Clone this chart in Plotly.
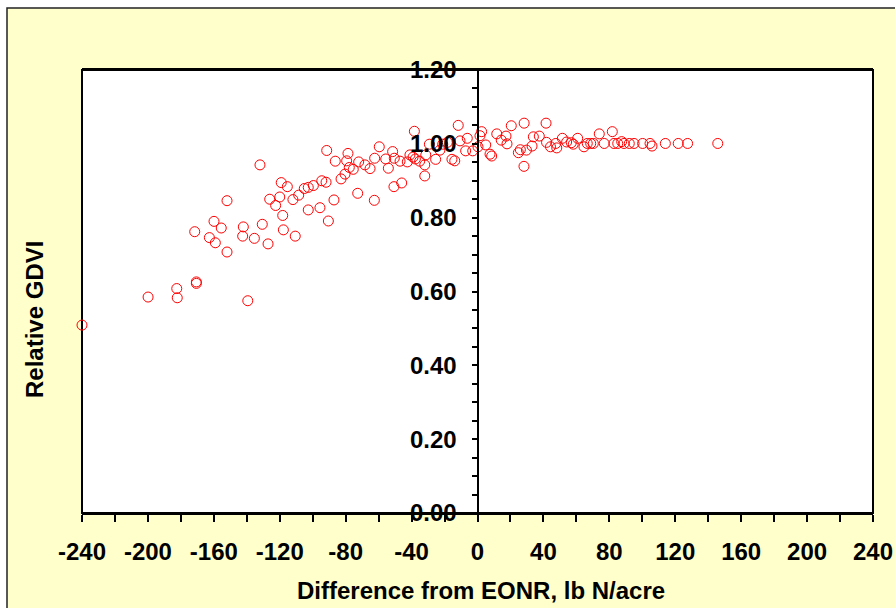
import plotly.graph_objects as go

# Difference from EONR (lb N/acre)
diff_eonr = [
    -132.0, -119.1, -115.4, -105.1, -102.7, -152.0, -126.1, -120.0, -122.5, -112.0,
    -108.5, -102.7, -118.2, -159.9, -155.5, -171.6, -142.1, -130.6, -142.5, -135.4,
    -162.7, -159.1, -127.1, -117.8, -110.6, -152.0, -170.6, -170.6, -182.5, -182.2,
    -199.9, -139.4, -240.0,
    -99.6, -94.5, -91.9, -91.5, -95.6, -90.5, -87.1, -86.3, -82.8, -80.4,
    -79.4, -78.6, -77.8, -75.4, -72.1, -72.7, -68.3, -65.2, -62.4, -62.6,
    -59.6, -55.7, -54.1, -51.5, -50.5, -50.7, -46.0, -47.0, -42.6, -41.0,
    -38.3, -37.7, -35.1, -32.0, -32.0, -31.4, -29.2, -25.4, -22.8, -21.1,
    -18.3, -15.5, -13.8, -11.7, -10.6, -7.2, -6.2, -2.9, 0.3, 1.5,
    2.5, 5.0, 7.6, 8.6, 11.7, 14.4, 17.3, 17.9, 20.5, 24.8,
    26.0, 28.2, 28.3, 29.7, 33.1, 33.9, 37.5, -39.1,
    41.6, 41.9, 44.3, 47.5, 48.1, 51.5, 54.1, 56.9, 58.1, 60.8,
    64.6, 66.6, 68.7, 70.3, 73.9, 76.9, 81.8, 82.8, 85.1, 87.5,
    88.9, 92.1, 95.0, 100.2, 104.7, 105.9, 114.0, 121.8, 127.5, 145.8,
]

# Relative GDVI
rel_gdvi = [
    0.943, 0.895, 0.884, 0.879, 0.882, 0.846, 0.850, 0.856, 0.833, 0.849,
    0.861, 0.821, 0.806, 0.790, 0.772, 0.762, 0.775, 0.782, 0.750, 0.744,
    0.746, 0.732, 0.729, 0.767, 0.750, 0.707, 0.626, 0.622, 0.608, 0.583,
    0.585, 0.575, 0.509,
    0.887, 0.900, 0.896, 0.982, 0.827, 0.791, 0.848, 0.953, 0.905, 0.918,
    0.954, 0.974, 0.936, 0.931, 0.951, 0.866, 0.943, 0.933, 0.961, 0.847,
    0.992, 0.959, 0.934, 0.979, 0.961, 0.884, 0.894, 0.953, 0.951, 0.970,
    1.034, 0.959, 0.953, 0.943, 0.913, 0.970, 0.999, 0.958, 0.983, 0.999,
    1.004, 0.958, 0.954, 1.050, 1.008, 0.981, 1.015, 0.981, 0.992, 1.022,
    1.033, 0.997, 0.972, 0.967, 1.027, 1.010, 1.021, 1.000, 1.049, 0.976,
    0.984, 0.939, 1.056, 0.983, 0.994, 1.019, 1.021, 0.964,
    1.056, 1.004, 0.992, 1.001, 0.989, 1.015, 1.005, 1.003, 0.999, 1.015,
    0.992, 1.001, 1.001, 1.001, 1.027, 1.001, 1.033, 1.001, 1.001, 1.006,
    1.001, 1.001, 1.001, 1.001, 1.001, 0.994, 1.001, 1.001, 1.001, 1.001,
]

x_tick_vals = list(range(-240, 241, 40))
x_tick_text = [str(v) for v in x_tick_vals]  # plain hyphen minus, as in the reference
y_tick_vals = [0.0, 0.2, 0.4, 0.6, 0.8, 1.0, 1.2]
y_tick_text = ["%.2f" % v for v in y_tick_vals]

FONT = "Liberation Sans, Arial, sans-serif"
W, H = 895, 608
ML, MR, MT, MB = 82, 22, 70, 95
PW, PH = W - ML - MR, H - MT - MB


def px_x(px):
    return (px - ML) / PW


def px_y(py):
    return (H - MB - py) / PH


fig = go.Figure()
fig.add_trace(go.Scatter(
    x=diff_eonr, y=rel_gdvi, mode="markers",
    marker=dict(symbol="circle-open", size=10, color="#FF0000", line=dict(width=1, color="#FF0000")),
    showlegend=False, cliponaxis=False,
))

tickfont = dict(family=FONT, size=24, color="black", weight="bold")

fig.update_layout(
    width=W, height=H,
    margin=dict(l=ML, r=MR, t=MT, b=MB, autoexpand=False),
    paper_bgcolor="white", plot_bgcolor="white",
    xaxis=dict(
        range=[-240, 240], tickmode="array", tickvals=x_tick_vals, ticktext=x_tick_text,
        ticks="outside", ticklen=7, tickwidth=2, tickcolor="black",
        minor=dict(dtick=20, tick0=0, ticks="outside", ticklen=7, tickwidth=2, tickcolor="black"),
        showline=True, linecolor="black", linewidth=2, mirror=True,
        showgrid=False, zeroline=False, tickfont=tickfont,
        ticklabelstandoff=9,
    ),
    yaxis=dict(
        range=[0, 1.2], tickmode="array", tickvals=y_tick_vals, ticktext=y_tick_text,
        anchor="free", position=0.5,
        ticks="outside", ticklen=5, tickwidth=2, tickcolor="black",
        minor=dict(dtick=0.05, tick0=0, ticks="outside", ticklen=5, tickwidth=2, tickcolor="black"),
        showline=True, linecolor="black", linewidth=2,
        showgrid=False, zeroline=False, tickfont=tickfont,
        ticklabelstandoff=10,
    ),
    shapes=[
        dict(type="rect", xref="paper", yref="paper", layer="below",
             x0=px_x(7), x1=px_x(905), y0=px_y(620), y1=px_y(8),
             fillcolor="#FFFFCC", line=dict(color="#222222", width=1.5)),
        dict(type="rect", xref="paper", yref="paper", layer="below",
             x0=0, x1=1, y0=0, y1=1, fillcolor="white", line=dict(width=0)),
        dict(type="rect", xref="paper", yref="paper", layer="below",
             x0=0, x1=1, y0=0, y1=1, line=dict(color="black", width=2)),
    ],
    annotations=[
        dict(text="Difference from EONR, lb N/acre", xref="paper", yref="paper",
             x=px_x(481), y=px_y(590), xanchor="center", yanchor="middle", showarrow=False,
             font=dict(family=FONT, size=24, color="black", weight="bold")),
        dict(text="Relative GDVI", xref="paper", yref="paper", textangle=-90,
             x=px_x(34), y=px_y(320), xanchor="center", yanchor="middle", showarrow=False,
             font=dict(family=FONT, size=24, color="black", weight="bold")),
    ],
)

fig.write_html("out.html", config={"displayModeBar": False},
               post_script="document.body.style.margin='0';document.body.style.padding='0';")
